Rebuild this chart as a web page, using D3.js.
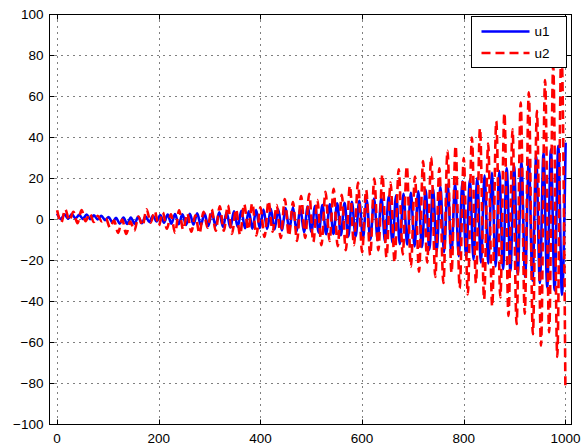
<!DOCTYPE html>
<html>
<head>
<meta charset="utf-8">
<script src="https://cdn.jsdelivr.net/npm/d3@7"></script>
<style>
  body { margin: 0; background: #fff; }
  svg { display: block; font-family: "Liberation Sans", Arial, Helvetica, sans-serif; }
  .grid { stroke: #000; stroke-width: 1; stroke-dasharray: 1,5; }
  .frame { fill: none; stroke: #000; stroke-width: 1; }
  .tick-label { font-size: 13.5px; fill: #000; }
</style>
</head>
<body>
<svg id="chart" width="584" height="448"></svg>
<script>
// series names, as in the legend
const seriesNames = ['u1', 'u2'];

// axis ticks
const xTicks = [0, 200, 400, 600, 800, 1000];
const yTicks = [-100, -80, -60, -40, -20, 0, 20, 40, 60, 80, 100];

// u1: successive peaks / troughs, first sample at t = 0, one every 7.25
const u1Start = 0;
const u1Step = 7.25;
const u1Peaks = [
  2.8, 0.2, 2.5, 0.4, 2.6, 0.5, 2.3, 0.3, 2.4, 0.2, 2.0, 0.0, 1.8, -0.3,
  1.2, -1.5, 0.8, -2.0, 0.9, -2.2, 1.0, -2.0, 1.3, -1.8, 1.6, -1.2, 1.8, -1.0,
  2.2, -1.6, 2.4, -2.0, 2.6, -2.3, 2.5, -2.6, 2.8, -2.4, 3.0, -2.8, 3.0, -3.2,
  3.2, -3.0, 3.5, -3.6, 3.4, -3.9, 4.0, -3.6, 4.2, -4.3, 4.0, -4.5, 4.6, -4.2,
  4.8, -4.6, 5.2, -4.9, 5.0, -5.4, 5.6, -5.2, 5.9, -5.8, 5.6, -6.2, 6.3, -6.0,
  6.6, -6.4, 7.0, -7.2, 7.4, -7.0, 7.9, -7.7, 8.2, -8.3, 8.6, -8.2, 9.1, -9.0,
  9.5, -9.8, 10.2, -10.0, 10.6, -10.9, 11.3, -11.2, 11.8, -12.0, 12.5, -12.2, 13.0, -13.1,
  13.8, -13.5, 14.6, -14.8, 15.2, -15.4, 16.1, -15.9, 17.0, -16.8, 17.6, -17.9, 18.6, -18.4,
  19.5, -19.6, 20.3, -21.0, 21.6, -21.5, 22.8, -22.9, 23.6, -24.2, 25.0, -25.1, 26.2, -26.6,
  27.8, -28.0, 29.0, -29.8, 30.8, -31.0, 32.4, -33.1, 34.3, -34.6, 36.0, -36.8, 37.5,
];

// u2: successive peaks / troughs, first sample at t = 0, one every 8
const u2Start = 0;
const u2Step = 8;
const u2Peaks = [
  4.5, -1.5, 5.0, -0.5, 3.8, -1.8, 4.6, -0.8, 3.0, -1.2, 1.8, -1.0,
  0.5, -4.0, -0.5, -6.5, 0.0, -7.0, -1.0, -5.5, 1.5, -3.0,
  5.0, -1.5, 4.0, -3.0,
  3.5, -4.5, 2.5, -6.5, 4.5, -5.0, 3.0, -6.0, 2.0, -6.8, 3.8, -4.0, 5.0, -5.5,
  6.5, -5.5, 7.0, -7.0, 5.0, -7.5, 7.5, -5.0, 8.0, -7.8, 6.0, -8.5,
  9.0, -6.0, 7.0, -9.0, 10.0, -8.0, 8.5, -10.5, 11.5, -9.0, 12.5, -11.0,
  9.5, -12.5, 13.5, -10.5, 15.0, -13.0, 12.0, -15.0, 16.5, -12.5, 18.0, -16.0,
  14.5, -17.5, 20.0, -15.0, 22.0, -18.5, 18.0, -21.0, 24.5, -17.0, 26.0, -23.0,
  21.0, -25.5, 28.5, -21.0, 30.5, -28.0, 25.0, -31.0, 33.5, -26.0, 36.0, -33.5,
  30.0, -36.5, 40.0, -31.0, 44.5, -39.0, 37.0, -42.5, 48.0, -38.0, 52.0, -47.0,
  44.0, -51.0, 57.0, -46.0, 62.0, -56.0, 53.0, -61.5, 68.0, -55.0, 75.0, -67.0,
  85.0, -82.0,
];

const MARGIN = { left: 49.5, right: 571.5, top: 14.5, bottom: 424.5 };
const TICK_LENGTH = 5;
const LINE_WIDTH = 2.6;

const svg = d3.select('#chart');

const x = d3.scaleLinear()
  .domain([-15, 1012])
  .range([MARGIN.left, MARGIN.right]);
const y = d3.scaleLinear()
  .domain([-100, 100])
  .range([MARGIN.bottom, MARGIN.top]);

const toPoints = (start, step, values) =>
  values.map((v, i) => ({ t: start + i * step, v }));

const series = [
  { name: seriesNames[0], points: toPoints(u1Start, u1Step, u1Peaks), color: '#0000ff', dash: null },
  { name: seriesNames[1], points: toPoints(u2Start, u2Step, u2Peaks), color: '#ff0000', dash: '9,5' },
];

// grid
const grid = svg.append('g').attr('id', 'grid');
grid.selectAll('line.gx')
  .data(xTicks)
  .enter()
    .append('line')
    .classed('grid', true)
    .attr('x1', (d) => Math.round(x(d)) + 0.5)
    .attr('x2', (d) => Math.round(x(d)) + 0.5)
    .attr('y1', MARGIN.top)
    .attr('y2', MARGIN.bottom);
grid.selectAll('line.gy')
  .data(yTicks)
  .enter()
    .append('line')
    .classed('grid', true)
    .attr('x1', MARGIN.left)
    .attr('x2', MARGIN.right)
    .attr('y1', (d) => Math.round(y(d) - 0.5) + 0.5)
    .attr('y2', (d) => Math.round(y(d) - 0.5) + 0.5);

// lines
svg.append('clipPath')
  .attr('id', 'plot-clip')
  .append('rect')
  .attr('x', MARGIN.left)
  .attr('y', MARGIN.top)
  .attr('width', MARGIN.right - MARGIN.left)
  .attr('height', MARGIN.bottom - MARGIN.top);

const line = d3.line()
  .x((d) => x(d.t))
  .y((d) => y(d.v))
  .curve(d3.curveMonotoneX);

svg.append('g')
  .attr('clip-path', 'url(#plot-clip)')
  .selectAll('path')
  .data(series)
  .enter()
    .append('path')
    .attr('d', (d) => line(d.points))
    .attr('fill', 'none')
    .attr('stroke', (d) => d.color)
    .attr('stroke-width', LINE_WIDTH)
    .attr('stroke-dasharray', (d) => d.dash);

// frame and ticks
svg.append('rect')
  .classed('frame', true)
  .attr('x', MARGIN.left)
  .attr('y', MARGIN.top)
  .attr('width', MARGIN.right - MARGIN.left)
  .attr('height', MARGIN.bottom - MARGIN.top);

const ticks = svg.append('g').attr('id', 'ticks').attr('stroke', '#000');
xTicks.forEach((d) => {
  const px = Math.round(x(d)) + 0.5;
  ticks.append('line')
    .attr('x1', px).attr('x2', px)
    .attr('y1', MARGIN.bottom).attr('y2', MARGIN.bottom - TICK_LENGTH);
  ticks.append('line')
    .attr('x1', px).attr('x2', px)
    .attr('y1', MARGIN.top).attr('y2', MARGIN.top + TICK_LENGTH);
});
yTicks.forEach((d) => {
  const py = Math.round(y(d) - 0.5) + 0.5;
  ticks.append('line')
    .attr('x1', MARGIN.left).attr('x2', MARGIN.left + TICK_LENGTH)
    .attr('y1', py).attr('y2', py);
  ticks.append('line')
    .attr('x1', MARGIN.right).attr('x2', MARGIN.right - TICK_LENGTH)
    .attr('y1', py).attr('y2', py);
});

const fmt = (d) => (d < 0 ? '\u2212' + Math.abs(d) : String(d));

svg.append('g')
  .selectAll('text')
  .data(xTicks)
  .enter()
    .append('text')
    .classed('tick-label', true)
    .attr('x', (d) => x(d))
    .attr('y', 443)
    .attr('text-anchor', 'middle')
    .text(fmt);

svg.append('g')
  .selectAll('text')
  .data(yTicks)
  .enter()
    .append('text')
    .classed('tick-label', true)
    .attr('x', 43.5)
    .attr('y', (d) => y(d))
    .attr('dy', '0.35em')
    .attr('text-anchor', 'end')
    .text(fmt);

// legend
const legend = svg.append('g').attr('id', 'legend');
legend.append('rect')
  .attr('x', 471.5)
  .attr('y', 16.5)
  .attr('width', 95)
  .attr('height', 51)
  .attr('fill', '#fff')
  .attr('stroke', '#000');

const legendRows = legend.selectAll('g')
  .data(series)
  .enter()
    .append('g')
    .attr('transform', (d, i) => `translate(0, ${31.5 + i * 21.5})`);
legendRows.append('line')
  .attr('x1', 481.5)
  .attr('x2', 529.5)
  .attr('stroke', (d) => d.color)
  .attr('stroke-width', LINE_WIDTH)
  .attr('stroke-dasharray', (d) => d.dash);
legendRows.append('text')
  .classed('tick-label', true)
  .attr('x', 534.5)
  .attr('dy', '0.35em')
  .text((d) => d.name);
</script>
</body>
</html>
